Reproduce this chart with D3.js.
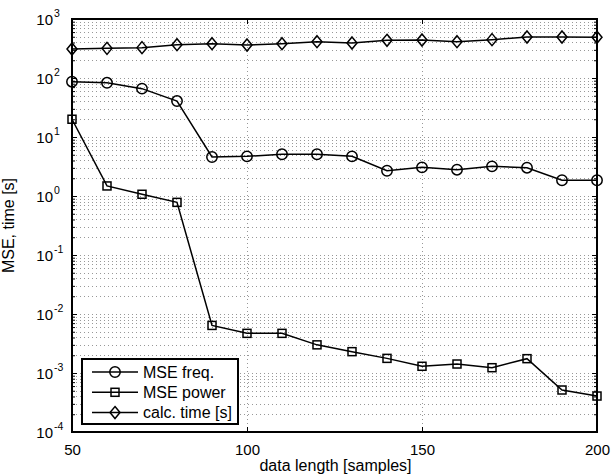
<!DOCTYPE html>
<html>
<head>
<meta charset="utf-8">
<script src="https://cdn.jsdelivr.net/npm/d3@7.9.0/dist/d3.min.js"></script>
<style>
  body { margin: 0; background: #fff; }
  svg { font-family: "Liberation Sans", Arial, sans-serif; }
  .grid line { stroke: #333; stroke-width: 1; stroke-dasharray: 1,3; shape-rendering: crispEdges; opacity: 0.5; }
</style>
</head>
<body>
<svg id="chart" width="615" height="476"></svg>
<script>
// data
const lengths = [50, 60, 70, 80, 90, 100, 110, 120, 130, 140, 150, 160, 170, 180, 190, 200];
const mseFreq = [86.5, 83, 66, 40.7, 4.58, 4.7, 5.1, 5.1, 4.7, 2.68, 3.06, 2.79, 3.18, 3.02, 1.85, 1.85];
const msePower = [20, 1.48, 1.07, 0.78, 0.0064, 0.0047, 0.0047, 0.0030, 0.0023, 0.00177, 0.0013, 0.00142, 0.00123, 0.00175, 0.000515, 0.000407];
const calcTime = [310, 318, 327, 367, 382, 362, 382, 413, 392, 435, 440, 413, 447, 495, 495, 490];
const seriesNames = ['MSE freq.', 'MSE power', 'calc. time [s]'];
const xTicks = [50, 100, 150, 200];
const yExps = [-4, -3, -2, -1, 0, 1, 2, 3];

const svg = d3.select('#chart');
const pLeft = 72, pRight = 597, pTop = 19, pBottom = 432;

const x = d3.scaleLinear().domain([50, 200]).range([pLeft, pRight]);
const y = d3.scaleLog().domain([1e-4, 1e3]).range([pBottom, pTop]);

// minor log positions
const minor = [];
yExps.slice(0, -1).forEach(e => {
  for (let m = 2; m <= 9; m++) minor.push(m * Math.pow(10, e));
});
const majors = yExps.map(e => Math.pow(10, e));

// grid
const grid = svg.append('g').attr('class', 'grid');
grid.selectAll('.hg').data(majors.concat(minor)).join('line')
  .attr('x1', pLeft).attr('x2', pRight)
  .attr('y1', d => Math.round(y(d)) + 0.5).attr('y2', d => Math.round(y(d)) + 0.5);
grid.selectAll('.vg').data(xTicks).join('line')
  .attr('x1', d => Math.round(x(d)) + 0.5).attr('x2', d => Math.round(x(d)) + 0.5)
  .attr('y1', pTop).attr('y2', pBottom);

// axes with inward ticks
const axisG = svg.append('g');
const xb = axisG.append('g').attr('transform', `translate(0,${pBottom})`)
  .call(d3.axisBottom(x).tickValues(xTicks).tickSize(-5).tickPadding(12).tickFormat(d3.format('d')));
axisG.append('g').attr('transform', `translate(0,${pTop})`)
  .call(d3.axisTop(x).tickValues(xTicks).tickSize(-5).tickFormat(''));

axisG.append('g').attr('transform', `translate(${pLeft},0)`)
  .call(d3.axisLeft(y).tickValues(majors).tickSize(-5).tickFormat(''));
axisG.append('g').attr('transform', `translate(${pLeft},0)`)
  .call(d3.axisLeft(y).tickValues(minor).tickSize(-3).tickFormat(''));
axisG.append('g').attr('transform', `translate(${pRight},0)`)
  .call(d3.axisRight(y).tickValues(majors).tickSize(-5).tickFormat(''));
axisG.append('g').attr('transform', `translate(${pRight},0)`)
  .call(d3.axisRight(y).tickValues(minor).tickSize(-3).tickFormat(''));

axisG.selectAll('.domain').remove();
axisG.selectAll('.tick line').attr('stroke', '#000').attr('stroke-width', 1);
xb.selectAll('text').attr('font-size', 15).attr('fill', '#000')
  .attr('font-family', '"Liberation Sans", Arial, sans-serif');

// y tick labels with superscripts
const ylab = svg.append('g');
yExps.forEach(e => {
  ylab.append('text')
    .attr('x', 53).attr('y', y(Math.pow(10, e)) + 6)
    .attr('text-anchor', 'end').attr('font-size', 15).text('10');
  ylab.append('text')
    .attr('x', 54).attr('y', y(Math.pow(10, e)) - 2)
    .attr('font-size', 10.5).text(String(e));
});

// box
svg.append('rect').attr('x', pLeft).attr('y', pTop)
  .attr('width', pRight - pLeft).attr('height', pBottom - pTop)
  .attr('fill', 'none').attr('stroke', '#000').attr('stroke-width', 2);

// axis titles
svg.append('text').attr('x', (pLeft + pRight) / 2 + 1).attr('y', 471)
  .attr('text-anchor', 'middle').attr('font-size', 16).text('data length [samples]');
svg.append('text').attr('transform', `translate(14,${(pTop + pBottom) / 2}) rotate(-90)`)
  .attr('text-anchor', 'middle').attr('font-size', 16).text('MSE, time [s]');

// markers
function drawMarker(g, type, cx, cy) {
  if (type === 'circle') {
    g.append('circle').attr('cx', cx).attr('cy', cy).attr('r', 5.2)
      .attr('fill', 'none').attr('stroke', '#000').attr('stroke-width', 1.5);
  } else if (type === 'square') {
    g.append('rect').attr('x', cx - 4).attr('y', cy - 4).attr('width', 8).attr('height', 8)
      .attr('fill', 'none').attr('stroke', '#000').attr('stroke-width', 1.5);
  } else {
    g.append('path').attr('d', `M${cx},${cy - 6}L${cx + 5},${cy}L${cx},${cy + 6}L${cx - 5},${cy}Z`)
      .attr('fill', 'none').attr('stroke', '#000').attr('stroke-width', 1.5);
  }
}

const series = [
  { name: seriesNames[0], values: mseFreq, marker: 'circle' },
  { name: seriesNames[1], values: msePower, marker: 'square' },
  { name: seriesNames[2], values: calcTime, marker: 'diamond' }
];

const line = d3.line().x(d => x(d[0])).y(d => y(d[1]));
series.forEach(s => {
  const pts = lengths.map((l, i) => [l, s.values[i]]);
  const g = svg.append('g');
  g.append('path').attr('d', line(pts)).attr('fill', 'none')
    .attr('stroke', '#000').attr('stroke-width', 1.5);
  pts.forEach(p => drawMarker(g, s.marker, x(p[0]), y(p[1])));
});

// legend
const lg = svg.append('g');
lg.append('rect').attr('x', 82).attr('y', 359).attr('width', 156).attr('height', 65)
  .attr('fill', '#fff').attr('stroke', '#000').attr('stroke-width', 2);
series.forEach((s, i) => {
  const ly = 372 + i * 20.3;
  lg.append('line').attr('x1', 92).attr('x2', 138).attr('y1', ly).attr('y2', ly)
    .attr('stroke', '#000').attr('stroke-width', 1.5);
  drawMarker(lg, s.marker, 115, ly);
  lg.append('text').attr('x', 143).attr('y', ly + 5.5).attr('font-size', 16).text(s.name);
});
</script>
</body>
</html>
